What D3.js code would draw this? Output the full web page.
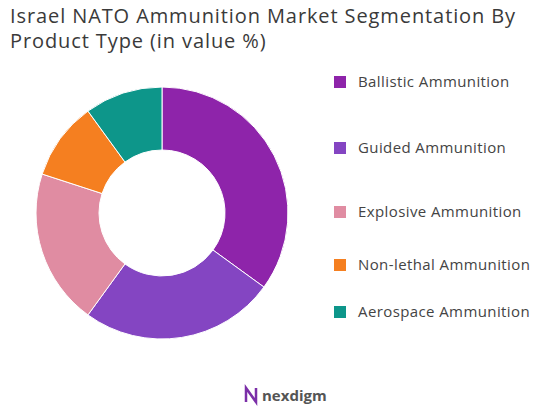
<!DOCTYPE html>
<html><head><meta charset="utf-8">
<script src="https://cdn.jsdelivr.net/npm/d3@7"></script>
<style>body{margin:0;background:#fff;font-family:"Open Sans",sans-serif}</style>
</head><body><svg id="c" width="549" height="410"></svg>
<script>
const categories=["Ballistic Ammunition","Guided Ammunition","Explosive Ammunition","Non-lethal Ammunition","Aerospace Ammunition"];
const values=[35,25,20,10,10];
const colors=["#8E24AA","#8445C2","#E08CA2","#F57F20","#0D968A"];
const legendY=[82,148,212,265,312];
const svg=d3.select("#c");
svg.append("text").attr("x",10).attr("y",23).attr("font-size",20).attr("letter-spacing",0.9).attr("fill","#3a3a3a").text("Israel NATO Ammunition Market Segmentation By");
svg.append("text").attr("x",10).attr("y",48).attr("font-size",20).attr("letter-spacing",0.9).attr("fill","#3a3a3a").text("Product Type (in value %)");
const pie=d3.pie().sort(null).value(d=>d)(values);
const arc=d3.arc().innerRadius(63).outerRadius(126);
const g=svg.append("g").attr("transform","translate(162,213)");
g.selectAll("path").data(pie).join("path").attr("d",arc).attr("fill",(d,i)=>colors[i]).attr("stroke","#fff").attr("stroke-width",1);
const lg=svg.append("g");
categories.forEach((c,i)=>{
 lg.append("rect").attr("x",334).attr("y",legendY[i]-6).attr("width",12).attr("height",12).attr("fill",colors[i]);
 lg.append("text").attr("x",358).attr("y",legendY[i]+5).attr("font-size",15).attr("letter-spacing",0.4).attr("fill","#444").text(c);
});
const lo=svg.append("g");
lo.append("path").attr("d","M246 402 L246 388 L256 402 L256 388").attr("fill","none").attr("stroke","#7b2fa8").attr("stroke-width",2.5);
lo.append("text").attr("x",262).attr("y",401).attr("font-size",15).attr("font-weight","bold").attr("fill","#555").text("nexdigm");
</script></body></html>
